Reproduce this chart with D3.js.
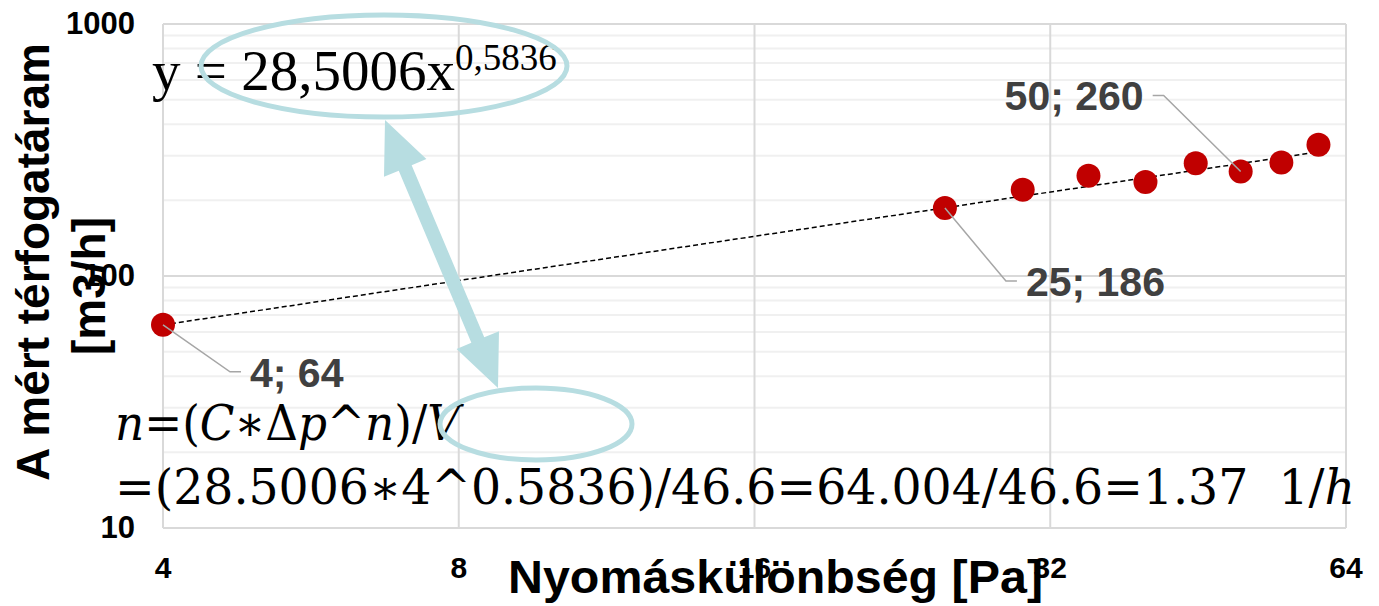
<!DOCTYPE html>
<html>
    <head>
        <meta charset="utf-8">
        <script src="https://d3js.org/d3.v7.min.js"></script>
        <style>
            body { margin: 0; background: #fff; }
            text { font-family: "Liberation Sans", Arial, sans-serif; }
        </style>
    </head>
    <body>
        <svg width="1379" height="606"></svg>

        <script>
            "use strict";

            // measured points: pressure difference [Pa] vs. volume flow [m3/h]
            var pressure = [4, 25, 30, 35, 40, 45, 50, 55, 60];
            var flow = [64, 186, 220, 250, 236, 280, 260, 282, 332];
            var labelled = [0, 1, 6];

            // power trendline y = C * x^n
            var trendC = 28.5006,
                trendN = 0.5836;

            var xTicks = [4, 8, 16, 32, 64];
            var yTicks = [10, 100, 1000];

            var svg = d3.select("svg"),
                plotL = 163, plotR = 1346, plotT = 24, plotB = 528;

            var x = d3.scaleLog().base(2).domain([4, 64]).range([plotL, plotR]),
                y = d3.scaleLog().domain([10, 1000]).range([plotB, plotT]);

            svg.append("rect").attr("width", 1379).attr("height", 606).attr("fill", "#fff");

            // minor horizontal grid
            svg.append("g").selectAll("line")
                .data(y.ticks().filter(d => yTicks.indexOf(d) < 0))
                .enter().append("line")
                .attr("x1", plotL).attr("x2", plotR)
                .attr("y1", d => y(d)).attr("y2", d => y(d))
                .attr("stroke", "#f0f0f0").attr("stroke-width", 2);

            // major grid
            svg.append("g").selectAll("line")
                .data(yTicks)
                .enter().append("line")
                .attr("x1", plotL).attr("x2", plotR)
                .attr("y1", d => y(d)).attr("y2", d => y(d))
                .attr("stroke", "#d9d9d9").attr("stroke-width", 2);
            svg.append("g").selectAll("line")
                .data(xTicks)
                .enter().append("line")
                .attr("x1", d => x(d)).attr("x2", d => x(d))
                .attr("y1", plotT).attr("y2", plotB)
                .attr("stroke", "#d9d9d9").attr("stroke-width", 2);

            // tick labels
            svg.append("g").selectAll("text")
                .data(yTicks)
                .enter().append("text")
                .attr("x", 135).attr("y", d => y(d) + 10)
                .attr("text-anchor", "end")
                .attr("font-size", 31).attr("font-weight", "bold")
                .text(d => d);
            svg.append("g").selectAll("text")
                .data(xTicks)
                .enter().append("text")
                .attr("x", d => x(d)).attr("y", 578)
                .attr("text-anchor", "middle")
                .attr("font-size", 30).attr("font-weight", "bold")
                .text(d => d);

            // axis titles
            svg.append("text")
                .attr("x", 508).attr("y", 593)
                .attr("font-size", 47).attr("font-weight", "bold")
                .attr("textLength", 535).attr("lengthAdjust", "spacingAndGlyphs")
                .text("Nyomáskülönbség [Pa]");
            svg.append("text")
                .attr("transform", "translate(49,262) rotate(-90)")
                .attr("text-anchor", "middle")
                .attr("font-size", 46).attr("font-weight", "bold")
                .text("A mért térfogatáram");
            svg.append("text")
                .attr("transform", "translate(105,286) rotate(-90)")
                .attr("text-anchor", "middle")
                .attr("font-size", 46).attr("font-weight", "bold")
                .text("[m3/h]");

            // trendline
            var trendX = [d3.min(pressure), d3.max(pressure)];
            svg.append("path")
                .attr("d", d3.line().x(d => x(d)).y(d => y(trendC * Math.pow(d, trendN)))(trendX))
                .attr("fill", "none")
                .attr("stroke", "#000")
                .attr("stroke-width", 1.5)
                .attr("stroke-dasharray", "5,3");

            // points
            svg.append("g").selectAll("circle")
                .data(pressure)
                .enter().append("circle")
                .attr("cx", d => x(d))
                .attr("cy", (d, i) => y(flow[i]))
                .attr("r", 12)
                .attr("fill", "#c00000");

            // data labels with leader lines (elbow offset from the point, label side)
            var labelLayout = {
                0: {dx: 67, dy: 47, side: 1},
                1: {dx: 61, dy: 73, side: 1},
                6: {dx: -77, dy: -76, side: -1}
            };
            labelled.forEach(function(i) {
                var px = x(pressure[i]), py = y(flow[i]), l = labelLayout[i];
                var ex = px + l.dx, ey = py + l.dy;
                svg.append("path")
                    .attr("d", "M" + px + "," + py + "L" + ex + "," + ey + "h" + (11 * l.side))
                    .attr("fill", "none").attr("stroke", "#a6a6a6").attr("stroke-width", 1.5);
                svg.append("text")
                    .attr("x", ex + 20 * l.side).attr("y", ey + 15)
                    .attr("text-anchor", l.side > 0 ? "start" : "end")
                    .attr("font-size", 41).attr("font-weight", "bold")
                    .attr("fill", "#404040")
                    .text(pressure[i] + "; " + flow[i]);
            });

            // trendline equation
            var eq = svg.append("text")
                .attr("x", 152).attr("y", 90)
                .style("font-family", "'Liberation Serif', serif")
                .attr("font-size", 57);
            eq.append("tspan").text("y = " + String(trendC).replace(".", ",") + "x");
            eq.append("tspan").attr("dy", -20).attr("font-size", 37)
                .text(String(trendN).replace(".", ","));

            // air change formula
            var f1 = svg.append("text")
                .attr("x", 115).attr("y", 440)
                .style("font-family", "'DejaVu Serif', serif")
                .attr("font-size", 49)
                .attr("textLength", 345).attr("lengthAdjust", "spacingAndGlyphs");
            [["n", 1], ["=(", 0], ["C", 1], ["∗Δ", 0], ["p", 1], ["^", 0], ["n", 1], [")/", 0], ["V", 1]]
                .forEach(p => f1.append("tspan").attr("font-style", p[1] ? "italic" : "normal").text(p[0]));

            var f2 = svg.append("text")
                .attr("x", 115).attr("y", 504)
                .style("font-family", "'DejaVu Serif', serif")
                .attr("font-size", 48)
                .attr("textLength", 1240).attr("lengthAdjust", "spacingAndGlyphs");
            f2.append("tspan").text("=(28.5006∗4^0.5836)/46.6=64.004/46.6=1.37\u00a0\u00a01/");
            f2.append("tspan").attr("font-style", "italic").text("h");

            // highlight ellipses and double arrow
            var accent = "#b7dde1";
            svg.append("ellipse")
                .attr("cx", 384).attr("cy", 66).attr("rx", 183).attr("ry", 51)
                .attr("fill", "none").attr("stroke", accent).attr("stroke-width", 5);
            svg.append("ellipse")
                .attr("cx", 536).attr("cy", 424).attr("rx", 96).attr("ry", 36)
                .attr("fill", "none").attr("stroke", accent).attr("stroke-width", 5);

            function doubleArrow(x1, y1, x2, y2, shaft, headW, headL) {
                var dx = x2 - x1, dy = y2 - y1, len = Math.hypot(dx, dy),
                    ux = dx / len, uy = dy / len, nx = -uy, ny = ux;
                var pt = (t, w) => [x1 + ux * t + nx * w, y1 + uy * t + ny * w];
                var pts = [
                    pt(0, 0), pt(headL, headW / 2), pt(headL, shaft / 2),
                    pt(len - headL, shaft / 2), pt(len - headL, headW / 2), pt(len, 0),
                    pt(len - headL, -headW / 2), pt(len - headL, -shaft / 2),
                    pt(headL, -shaft / 2), pt(headL, -headW / 2)
                ];
                return "M" + pts.join("L") + "Z";
            }
            svg.append("path")
                .attr("d", doubleArrow(385, 120, 498, 388, 14, 46, 52))
                .attr("fill", accent);
        </script>
    </body>
</html>
